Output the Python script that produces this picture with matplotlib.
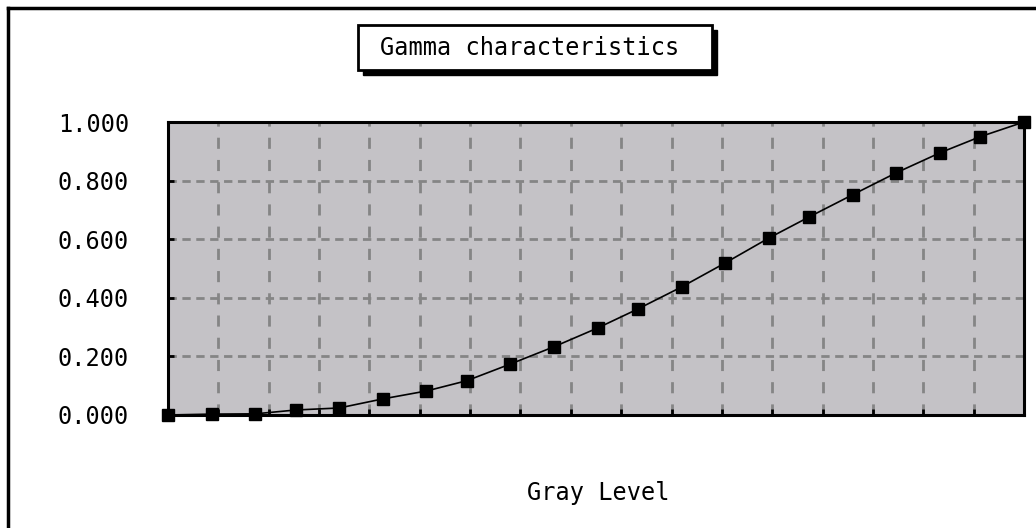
import matplotlib
matplotlib.use('Agg')
import matplotlib.pyplot as plt
from matplotlib.patches import Rectangle
from matplotlib.lines import Line2D

# %% data
gray_level = [0, 13, 26, 38, 51, 64, 77, 89, 102, 115, 128,
              140, 153, 166, 179, 191, 204, 217, 230, 242, 255]
gamma = [0.000, 0.003, 0.004, 0.017, 0.024, 0.055, 0.082, 0.117, 0.174, 0.233, 0.297,
         0.362, 0.437, 0.519, 0.604, 0.676, 0.752, 0.827, 0.895, 0.950, 1.000]
yticks = [0.0, 0.2, 0.4, 0.6, 0.8, 1.0]
xgrid = list(range(0, 256, 15))

title = 'Gamma characteristics'
xlabel = 'Gray Level'

# wide, evenly spaced sans glyphs like the old bitmap font
plt.rcParams['font.family'] = ['DejaVu Sans Mono']
fs = 17

W, H = 1036, 528
fig = plt.figure(figsize=(W / 100, H / 100), dpi=100)
fig.patch.set_facecolor('white')

# axes placed in pixel terms of the reference
ax = fig.add_axes([168 / W, 1 - 415 / H, (1024 - 168) / W, (415 - 122) / H])
ax.set_facecolor('#c4c2c6')

ax.plot(gray_level, gamma, color='black', lw=1.2, marker='s', ms=9,
        mfc='black', mec='black', clip_on=False, zorder=5)

ax.set_xlim(0, 255)
ax.set_ylim(0, 1)
ax.set_xticks(xgrid)
ax.set_xticklabels([])
ax.set_yticks(yticks)
ax.set_yticklabels(['%.3f' % v for v in yticks], fontsize=fs)
ax.tick_params(axis='both', direction='in', length=4, width=2, color='black')
ax.tick_params(axis='y', pad=28)

ax.xaxis.grid(True, color='#858585', linestyle=(0, (4, 4)), linewidth=2)
ax.yaxis.grid(True, color='#858585', linestyle=(0, (3, 2)), linewidth=2)
ax.set_axisbelow(True)
for s in ax.spines.values():
    s.set_linewidth(2.2)
    s.set_color('black')

# outer frame (left and top edges visible)
fig.add_artist(Line2D([8 / W, 8 / W], [0, 1 - 8 / H], transform=fig.transFigure,
                      color='black', lw=2.5))
fig.add_artist(Line2D([8 / W, 1], [1 - 8 / H, 1 - 8 / H], transform=fig.transFigure,
                      color='black', lw=2.5))

# title box with drop shadow
bx0, bx1, by0, by1 = 358, 712, 25, 70
sh = 5
fig.add_artist(Rectangle(((bx0 + sh) / W, 1 - (by1 + sh) / H), (bx1 - bx0) / W, (by1 - by0) / H,
                         transform=fig.transFigure, facecolor='black', edgecolor='black'))
fig.add_artist(Rectangle((bx0 / W, 1 - by1 / H), (bx1 - bx0) / W, (by1 - by0) / H,
                         transform=fig.transFigure, facecolor='white', edgecolor='black', lw=2))
fig.text(530 / W, 1 - 48 / H, title, ha='center', va='center', fontsize=fs)

fig.text(598 / W, 1 - 493 / H, xlabel, ha='center', va='center', fontsize=fs)

fig.savefig('out.png', dpi=100)
